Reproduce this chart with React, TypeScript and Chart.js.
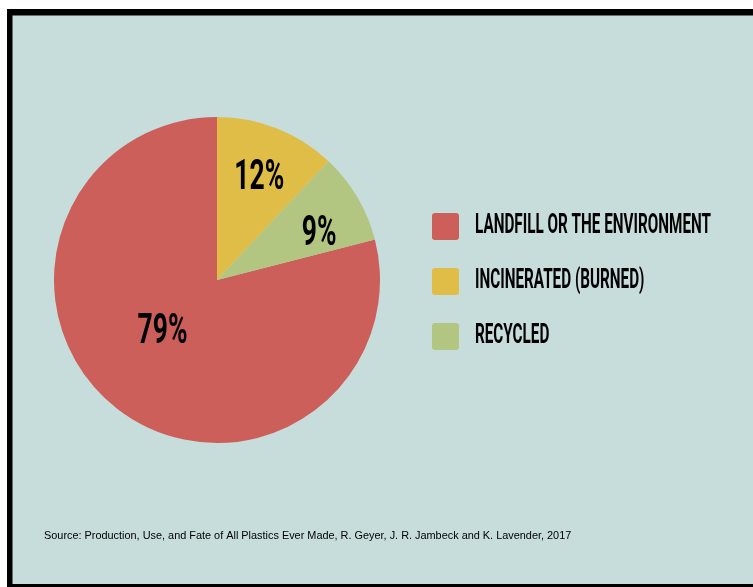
import React, { useEffect, useRef } from "react";
import { Chart, registerables } from "chart.js";

Chart.register(...registerables);

const categories = ["LANDFILL OR THE ENVIRONMENT", "INCINERATED (BURNED)", "RECYCLED"];
const values = [79, 12, 9];
const valueLabels = ["79%", "12%", "9%"];
const colors = ["#cd5f5a", "#dfbd46", "#b2c682"];
const sourceText =
  "Source: Production, Use, and Fate of All Plastics Ever Made, R. Geyer, J. R. Jambeck and K. Lavender, 2017";

const BG = "#c7dddc";
const CONDENSED = '700 {S}px Roboto, "DejaVu Sans", sans-serif';

function drawCondensed(ctx: CanvasRenderingContext2D, text: string, x: number, y: number, size: number, sx: number, align: "left" | "center") {
  ctx.save();
  ctx.font = CONDENSED.replace("{S}", String(size));
  ctx.textBaseline = "middle";
  ctx.textAlign = align;
  ctx.translate(x, y);
  ctx.scale(sx, 1);
  ctx.fillStyle = "#000";
  ctx.fillText(text, 0, 0);
  ctx.restore();
}

const framePlugin = {
  id: "frame",
  beforeDraw(chart: any) {
    const ctx = chart.ctx as CanvasRenderingContext2D;
    ctx.save();
    ctx.fillStyle = "#ffffff";
    ctx.fillRect(0, 0, chart.width, chart.height);
    ctx.fillStyle = "#000";
    ctx.fillRect(7, 9, chart.width - 7, chart.height - 9);
    ctx.fillStyle = BG;
    ctx.fillRect(12.5, 15.5, chart.width - 12.5, 584 - 15.5);
    ctx.restore();
  },
};

// label placement style: radial fraction and angular nudge (degrees)
const labelRadius = [0.46, 0.68, 0.69];
const labelNudge = [8.8, 0.8, 5.9];

const overlayPlugin = {
  id: "overlay",
  afterDraw(chart: any) {
    const ctx = chart.ctx as CanvasRenderingContext2D;
    const meta = chart.getDatasetMeta(0);
    meta.data.forEach((arc: any, i: number) => {
      const mid = (arc.startAngle + arc.endAngle) / 2 + (labelNudge[i] * Math.PI) / 180;
      const r = arc.outerRadius * labelRadius[i];
      const x = arc.x + Math.cos(mid) * r;
      const y = arc.y + Math.sin(mid) * r;
      drawCondensed(ctx, valueLabels[i], x, y + 1, 42, 0.63, "center");
    });
    // legend
    const lx = 432;
    const ly = 213;
    const gap = 55;
    categories.forEach((c, i) => {
      const y = ly + i * gap;
      ctx.save();
      ctx.fillStyle = colors[i];
      ctx.beginPath();
      (ctx as any).roundRect(lx, y, 27, 27, 3);
      ctx.fill();
      ctx.restore();
      drawCondensed(ctx, c, 475, y + 13, 28, 0.545, "left");
    });
    // source
    ctx.save();
    ctx.font = '10.9px "Liberation Sans", Arial, sans-serif';
    ctx.fillStyle = "#000";
    ctx.textBaseline = "middle";
    ctx.textAlign = "left";
    ctx.fillText(sourceText, 44, 536);
    ctx.restore();
  },
};

export default function App() {
  const ref = useRef<HTMLCanvasElement | null>(null);
  useEffect(() => {
    if (!ref.current) return;
    const total = values.reduce((a, b) => a + b, 0);
    const rotation = ((total - values[0]) / total) * 360;
    const chart = new Chart(ref.current, {
      type: "pie",
      data: {
        labels: categories,
        datasets: [
          {
            data: values,
            backgroundColor: colors,
            borderWidth: 0,
          },
        ],
      },
      options: {
        animation: false,
        responsive: false,
        rotation,
        layout: { padding: { left: 54, right: 373, top: 117, bottom: 144 } },
        plugins: { legend: { display: false }, tooltip: { enabled: false } },
      },
      plugins: [framePlugin, overlayPlugin],
    });
    return () => chart.destroy();
  }, []);
  return (
    <div style={{ position: "fixed", left: 0, top: 0, width: 753, height: 587, background: "#fff" }}>
      <canvas ref={ref} width={753} height={587} style={{ display: "block", width: 753, height: 587 }} />
    </div>
  );
}
